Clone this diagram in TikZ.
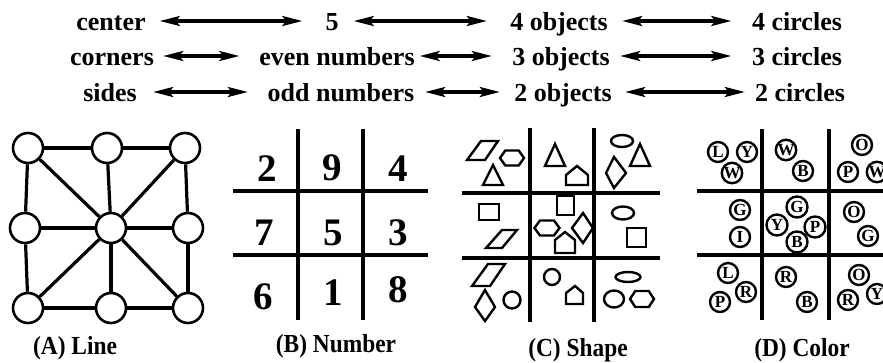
\documentclass[tikz,border=0pt]{standalone}
\usepackage{fontspec}
\usepackage{graphicx}
\setmainfont{Liberation Serif}
\usetikzlibrary{arrows.meta}
\tikzset{
  toplbl/.style={font=\bfseries\fontsize{26}{26}\selectfont, inner sep=0pt, text height=18pt, text depth=0pt},
  biarr/.style={line width=3.2pt, {Stealth[length=20pt,width=10pt,inset=4pt]}-{Stealth[length=20pt,width=10pt,inset=4pt]}},
  gnode/.style={circle, draw, line width=2.6pt, minimum size=30pt, inner sep=0pt, fill=white},
  gedge/.style={line width=3.2pt},
  gridline/.style={line width=3.4pt},
  bigdigit/.style={font=\bfseries\fontsize{39}{39}\selectfont, inner sep=0pt},
  shp/.style={line width=2.4pt, line join=miter},
  lcirc/.style={circle, draw, line width=2.4pt, minimum size=20pt, inner sep=0pt, font=\bfseries\fontsize{17}{17}\selectfont},
  caption/.style={font=\bfseries\fontsize{26}{26}\selectfont, inner sep=0pt, anchor=base}
}
\newcommand{\hexa}[4]{% cx cy w h
  \draw[shp] ({#1-#3/2},#2) -- ({#1-#3*0.28},{#2-#4/2}) -- ({#1+#3*0.28},{#2-#4/2}) -- ({#1+#3/2},#2) -- ({#1+#3*0.28},{#2+#4/2}) -- ({#1-#3*0.28},{#2+#4/2}) -- cycle;}
\begin{document}
\begin{tikzpicture}[x=1pt,y=-1pt]
\clip (0,0) rectangle (883,362);
\fill[white] (0,0) rectangle (883,362);

% ---------- top correspondence rows ----------
\node[toplbl, minimum width=69pt] (center) at (111,21) {center};
\node[toplbl, minimum width=13pt] (five) at (332,21) {5};
\node[toplbl, minimum width=98pt] (obj4) at (559,21) {4 objects};
\node[toplbl, minimum width=91pt] (cir4) at (797,21) {4 circles};
\draw[biarr, shorten <=14pt, shorten >=23pt] (center) -- (five);
\draw[biarr, shorten <=15pt, shorten >=23pt] (five) -- (obj4);
\draw[biarr, shorten <=14pt, shorten >=20pt] (obj4) -- (cir4);

\node[toplbl, minimum width=84pt] (corners) at (112,56) {corners};
\node[toplbl, minimum width=161pt] (even) at (337,56) {even numbers};
\node[toplbl, minimum width=102pt] (obj3) at (561,56) {3 objects};
\node[toplbl, minimum width=91pt] (cir3) at (797,56) {3 circles};
\draw[biarr, shorten <=9pt, shorten >=17pt] (corners) -- (even);
\draw[biarr, shorten <=2pt, shorten >=18pt] (even) -- (obj3);
\draw[biarr, shorten <=8pt, shorten >=20pt] (obj3) -- (cir3);

\node[toplbl, minimum width=56pt] (sides) at (110,92) {sides};
\node[toplbl, minimum width=152pt] (odd) at (341,92) {odd numbers};
\node[toplbl, minimum width=100pt] (obj2) at (563,92) {2 objects};
\node[toplbl, minimum width=90pt] (cir2) at (800,92) {2 circles};
\draw[biarr, shorten <=15pt, shorten >=17pt] (sides) -- (odd);
\draw[biarr, shorten <=8pt, shorten >=13pt] (odd) -- (obj2);
\draw[biarr, shorten <=12pt, shorten >=10pt] (obj2) -- (cir2);

% ---------- (A) Line ----------
\node[gnode] (a11) at (28,148) {};
\node[gnode] (a12) at (107,148) {};
\node[gnode] (a13) at (185,148) {};
\node[gnode] (a21) at (25,228) {};
\node[gnode] (a22) at (111,228) {};
\node[gnode] (a23) at (188,228) {};
\node[gnode] (a31) at (28,308) {};
\node[gnode] (a32) at (111,308) {};
\node[gnode] (a33) at (188,308) {};
\draw[gedge] (a11) -- (a12);
\draw[gedge] (a12) -- (a13);
\draw[gedge] (a31) -- (a32);
\draw[gedge] (a32) -- (a33);
\draw[gedge] (a11) -- (a21);
\draw[gedge] (a21) -- (a31);
\draw[gedge] (a13) -- (a23);
\draw[gedge] (a23) -- (a33);
\draw[gedge] (a21) -- (a22);
\draw[gedge] (a22) -- (a23);
\draw[gedge] (a12) -- (a22);
\draw[gedge] (a22) -- (a32);
\draw[gedge] (a11) -- (a22);
\draw[gedge] (a13) -- (a22);
\draw[gedge] (a31) -- (a22);
\draw[gedge] (a33) -- (a22);
\node[caption] (capA) at (75,354) {\scalebox{0.9}[1]{(A) Line}};

% ---------- (B) Number ----------
\draw[gridline] (298,129) -- (298,320);
\draw[gridline] (363,129) -- (363,320);
\draw[gridline] (233,191) -- (428,191);
\draw[gridline] (233,255) -- (428,255);
\node[bigdigit] (n2) at (267,169) {2};
\node[bigdigit] (n9) at (332,168) {9};
\node[bigdigit] (n4) at (398,169) {4};
\node[bigdigit] (n7) at (264,233) {7};
\node[bigdigit] (n5) at (333,233) {5};
\node[bigdigit] (n3) at (398,233) {3};
\node[bigdigit] (n6) at (263,297) {6};
\node[bigdigit] (n1) at (333,293) {1};
\node[bigdigit] (n8) at (398,290) {8};
\node[caption] (capB) at (336,352) {\scalebox{0.9}[1]{(B) Number}};

% ---------- (C) Shape ----------
\draw[gridline] (530,128) -- (530,322);
\draw[gridline] (594,128) -- (594,322);
\draw[gridline] (462,193) -- (660,193);
\draw[gridline] (462,258) -- (660,258);
% parallelograms
\draw[shp] (467,160) -- (485,160) -- (498,141) -- (481,141) -- cycle;
\draw[shp] (486,248) -- (502,248) -- (517,230) -- (502,230) -- cycle;
\draw[shp] (472,286) -- (490,286) -- (505,264) -- (488,264) -- cycle;
% triangles
\draw[shp] (493,165) -- (503,185) -- (483,185) -- cycle;
\draw[shp] (555,144) -- (565,166) -- (545,166) -- cycle;
\draw[shp] (640,144) -- (650,166) -- (630,166) -- cycle;
% hexagons
\hexa{512}{158}{24}{15}
\hexa{547}{228}{25}{15}
\hexa{642}{299}{24}{16}
% pentagons
\draw[shp] (566,185) -- (588,185) -- (588,175) -- (577,166) -- (566,175) -- cycle;
\draw[shp] (555,253) -- (575,253) -- (575,240) -- (565,232) -- (555,240) -- cycle;
\draw[shp] (566,304) -- (583,304) -- (583,293) -- (575,286) -- (566,293) -- cycle;
% diamonds
\draw[shp] (614,157) -- (626,173) -- (614,188) -- (606,173) -- cycle;
\draw[shp] (583,213) -- (593,228) -- (583,243) -- (572,228) -- cycle;
\draw[shp] (485,290) -- (495,307) -- (485,321) -- (475,307) -- cycle;
% squares
\draw[shp] (479,204) rectangle (499,220);
\draw[shp] (557,196) rectangle (574,215);
\draw[shp] (627,228) rectangle (646,247);
% ellipses and circles
\draw[shp] (622,141) ellipse [x radius=11, y radius=6];
\draw[shp] (623,213) ellipse [x radius=11, y radius=6.5];
\draw[shp] (628,277) ellipse [x radius=12.5, y radius=5];
\draw[shp] (512,300) circle [radius=8.5];
\draw[shp] (552,277) circle [radius=8];
\draw[shp] (614,299) ellipse [x radius=10, y radius=8.5];
\node[caption] (capC) at (578,356) {\scalebox{0.9}[1]{(C) Shape}};

% ---------- (D) Color ----------
\draw[gridline] (762,129) -- (762,320);
\draw[gridline] (829,129) -- (829,320);
\draw[gridline] (697,191) -- (883,191);
\draw[gridline] (697,255) -- (883,255);
\node[lcirc] (dL1) at (718,152) {L};
\node[lcirc] (dY1) at (747,152) {Y};
\node[lcirc] (dW1) at (732,173) {W};
\node[lcirc] (dW2) at (786,150) {W};
\node[lcirc] (dB2) at (803,171) {B};
\node[lcirc] (dO3) at (862,145) {O};
\node[lcirc] (dP3) at (848,172) {P};
\node[lcirc] (dW3) at (877,172) {W};
\node[lcirc] (dG4) at (740,210) {G};
\node[lcirc] (dI4) at (740,237) {I};
\node[lcirc, minimum size=21pt] (dG5) at (797,207) {G};
\node[lcirc, minimum size=21pt] (dY5) at (777,225) {Y};
\node[lcirc, minimum size=21pt] (dP5) at (815,227) {P};
\node[lcirc, minimum size=21pt] (dB5) at (797,242) {B};
\node[lcirc] (dO6) at (854,212) {O};
\node[lcirc] (dG6) at (868,236) {G};
\node[lcirc] (dL7) at (728,273) {L};
\node[lcirc] (dP7) at (720,302) {P};
\node[lcirc] (dR7) at (746,292) {R};
\node[lcirc] (dR8) at (786,277) {R};
\node[lcirc] (dB8) at (807,302) {B};
\node[lcirc] (dO9) at (859,275) {O};
\node[lcirc] (dR9) at (848,300) {R};
\node[lcirc] (dY9) at (877,294) {Y};
\node[caption] (capD) at (802,356) {\scalebox{0.9}[1]{(D) Color}};
\end{tikzpicture}
\end{document}
